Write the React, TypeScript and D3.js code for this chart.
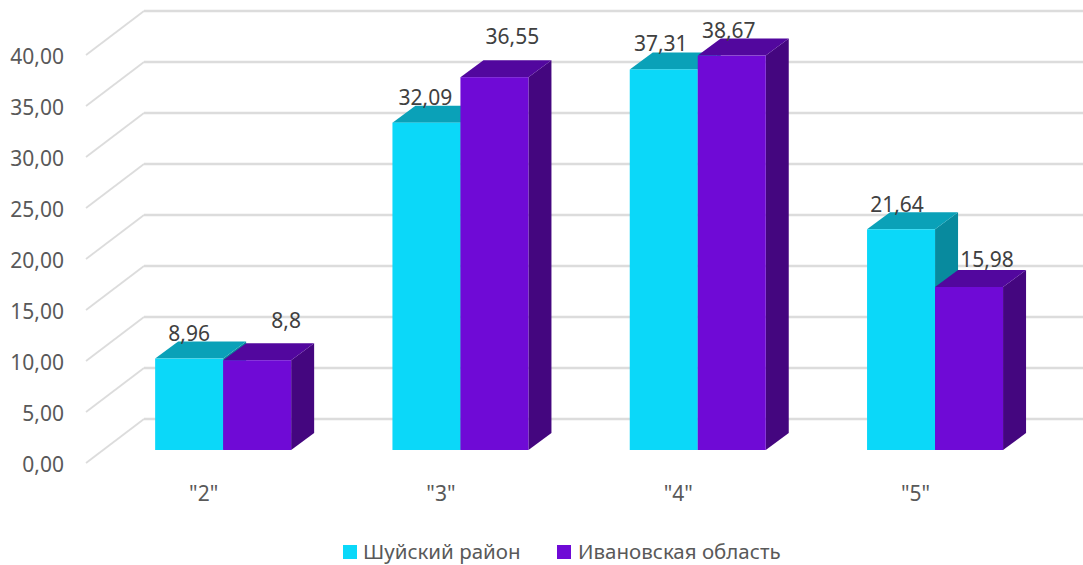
import React from 'react';
import * as d3 from 'd3';

const categories = ['"2"', '"3"', '"4"', '"5"'];
const seriesNames = ['Шуйский район', 'Ивановская область'];
const shuya = [8.96, 32.09, 37.31, 21.64];
const ivanovo = [8.8, 36.55, 38.67, 15.98];
const ticks = [0, 5, 10, 15, 20, 25, 30, 35, 40];

// hand nudges for the data labels, they are not placed evenly in the original
const shuyaNudge = [[0, -25], [-1, -25], [-3, -26], [-4, -25]];
const ivanovoNudge = [[29, -40], [18, -41], [-3, -25], [18, -28]];

const width = 1083;
const height = 565;
const baseY = 450;
const depthX = 23;
const depthY = 17;
const wallX = 144;
const wallY = 419;
const font = '"Noto Sans", sans-serif';

const palette = [
  { front: '#0bd8f9', top: '#0aa1b8', side: '#088a9e' },
  { front: '#6f0ad6', top: '#52079e', side: '#44067f' },
];

const x = d3.scaleBand().domain(categories).range([104.5, 1053.7]).paddingInner(0).paddingOuter(0);
const y = d3.scaleLinear().domain([0, 40]).range([baseY, baseY - 408]);
const barW = 68;
const fmtTick = d3.formatLocale({ decimal: ',', thousands: ' ', grouping: [3], currency: ['', ''] }).format('.2f');
const fmtValue = (v: number) => String(v).replace('.', ',');

function Bar({ left, value, colors }: { left: number; value: number; colors: typeof palette[0] }) {
  const top = y(value);
  const right = left + barW;
  const poly = (pts: number[][]) => pts.map(p => p.join(',')).join(' ');
  return (
    <g>
      <polygon fill={colors.side} points={poly([[right, top], [right + depthX, top - depthY], [right + depthX, baseY - depthY], [right, baseY]])} />
      <polygon fill={colors.top} points={poly([[left, top], [left + depthX, top - depthY], [right + depthX, top - depthY], [right, top]])} />
      <rect x={left} y={top} width={barW} height={baseY - top} fill={colors.front} />
    </g>
  );
}

export default function App() {
  return (
    <svg width={width} height={height} style={{ position: 'absolute', left: 0, top: 0, background: '#fff' }} fontFamily={font}>
      {/* back wall and floor lines */}
      {ticks.map(t => {
        const py = y(t);
        const wy = py - (baseY - wallY);
        return (
          <g key={t} fill="none" stroke="#dcdcdc">
            <line x1={wallX} x2={width} y1={wy} y2={wy} strokeWidth={2.5} />
            <line x1={86} x2={wallX} y1={py + 13} y2={wy} strokeWidth={1.8} />
            <text x={64} y={py + 14} dy="0.36em" textAnchor="end" fontSize={21} fill="#595959" stroke="none">{fmtTick(t)}</text>
          </g>
        );
      })}

      {categories.map((c, i) => {
        const left = (x(c) as number) + x.bandwidth() / 2 - barW;
        return (
          <g key={c}>
            <Bar left={left} value={shuya[i]} colors={palette[0]} />
            <Bar left={left + barW} value={ivanovo[i]} colors={palette[1]} />
            <text x={left + barW - 19.5} y={493.5} dy="0.36em" textAnchor="middle" fontSize={21} fill="#595959">{c}</text>
          </g>
        );
      })}

      {/* labels go last so the bars never cover them */}
      {categories.map((c, i) => {
        const left = (x(c) as number) + x.bandwidth() / 2 - barW;
        return (
          <g key={c} fontSize={21} fill="#404040" textAnchor="middle">
            <text x={left + barW / 2 + shuyaNudge[i][0]} y={y(shuya[i]) + shuyaNudge[i][1]} dy="0.36em">{fmtValue(shuya[i])}</text>
            <text x={left + barW * 1.5 + ivanovoNudge[i][0]} y={y(ivanovo[i]) + ivanovoNudge[i][1]} dy="0.36em">{fmtValue(ivanovo[i])}</text>
          </g>
        );
      })}

      {/* legend */}
      <g fontSize={20.5} fill="#595959">
        <rect x={343} y={545} width={14} height={14} fill={palette[0].front} />
        <text x={363} y={552} dy="0.36em">{seriesNames[0]}</text>
        <rect x={557} y={545} width={14} height={14} fill={palette[1].front} />
        <text x={578} y={552} dy="0.36em">{seriesNames[1]}</text>
      </g>
    </svg>
  );
}
